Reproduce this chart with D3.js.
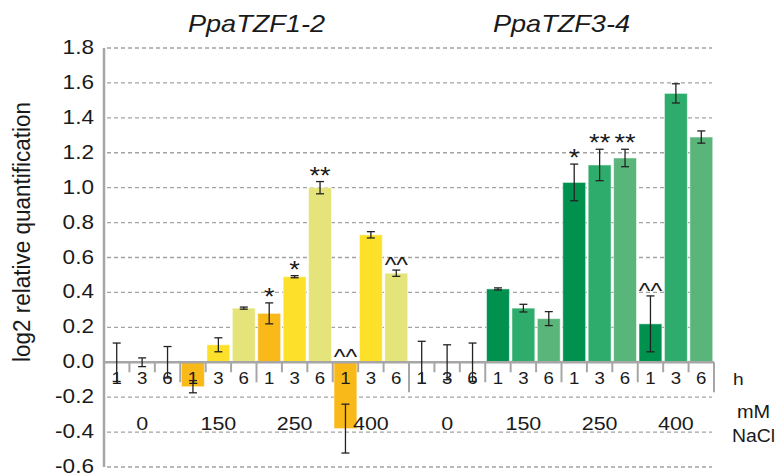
<!DOCTYPE html>
<html>
<head>
<meta charset="utf-8">
<script src="https://cdn.jsdelivr.net/npm/d3@7"></script>
<style>
  body { margin: 0; background: #fff; }
  text { font-family: "Liberation Sans", Arial, sans-serif; fill: #1a1a1a; }
</style>
</head>
<body>
<svg id="chart" width="779" height="475"></svg>
<script>
// values
const genes = ["PpaTZF1-2", "PpaTZF3-4"];
const concentrations = ["0", "150", "250", "400"];
const hours = ["1", "3", "6"];
const yTicks = [-0.6, -0.4, -0.2, 0.0, 0.2, 0.4, 0.6, 0.8, 1.0, 1.2, 1.4, 1.6, 1.8];

const tzf12Values = [0, 0, 0, -0.14, 0.10, 0.31, 0.28, 0.49, 1.00, -0.38, 0.73, 0.51];
const tzf12Errors = [0.11, 0.025, 0.09, 0.035, 0.04, 0.006, 0.06, 0.006, 0.035, 0.14, 0.018, 0.018];
const tzf12Marks = ["", "", "", "", "", "", "*", "*", "**", "^^", "", "^^"];

const tzf34Values = [0, 0, 0, 0.42, 0.31, 0.25, 1.03, 1.13, 1.17, 0.22, 1.54, 1.29];
const tzf34Errors = [0.12, 0.1, 0.11, 0.006, 0.022, 0.04, 0.105, 0.09, 0.05, 0.16, 0.055, 0.035];
const tzf34Marks = ["", "", "", "", "", "", "*", "**", "**", "^^", "", ""];

const colors12 = ["#F9B918", "#FDE02A", "#E4E47A"];
const colors34 = ["#00914F", "#2EAC6C", "#5AB57A"];

const plotLeft = 104, plotRight = 714, plotTop = 48, plotBottom = 467;
const sx = 1.13; // the figure's lettering is a bit wide

const rows = [];
[[tzf12Values, tzf12Errors, tzf12Marks, colors12], [tzf34Values, tzf34Errors, tzf34Marks, colors34]]
  .forEach(([vals, errs, marks, cols], g) => {
    vals.forEach((v, i) => {
      rows.push({
        key: g * 12 + i, gene: g,
        conc: concentrations[Math.floor(i / 3)], hour: hours[i % 3],
        value: v, err: errs[i], mark: marks[i],
        color: cols[i % 3], empty: Math.floor(i / 3) == 0
      });
    });
  });

const svg = d3.select("#chart");

const x = d3.scaleBand()
  .domain(rows.map(d => d.key))
  .range([plotLeft, plotRight])
  .paddingInner(0.1)
  .paddingOuter(0.05);

const y = d3.scaleLinear()
  .domain([-0.6, 1.8])
  .range([plotBottom, plotTop]);

const step = (plotRight - plotLeft) / rows.length;
const catX = i => plotLeft + i * step;

// dashed grid
svg.append("g").selectAll("line")
  .data(yTicks.filter(t => t != 0))
  .enter().append("line")
  .attr("x1", plotLeft + 3).attr("x2", plotRight - 2)
  .attr("y1", d => y(d)).attr("y2", d => y(d))
  .attr("stroke", "#a3a3a3")
  .attr("stroke-width", 1.3)
  .attr("stroke-dasharray", "4,3");

// y tick labels (plain hyphen like the figure)
svg.append("g").selectAll("text")
  .data(yTicks)
  .enter().append("text")
  .attr("transform", d => "translate(94," + y(d) + ") scale(" + sx + ",1)")
  .attr("dy", "0.3em")
  .attr("text-anchor", "end")
  .style("font-size", "20px")
  .text(d => d3.format(".1f")(d).replace("\u2212", "-"));

// bars
svg.append("g").selectAll("rect")
  .data(rows.filter(d => !d.empty))
  .enter().append("rect")
  .attr("x", d => x(d.key))
  .attr("width", x.bandwidth())
  .attr("y", d => y(Math.max(0, d.value)))
  .attr("height", d => Math.abs(y(d.value) - y(0)))
  .attr("fill", d => d.color)
  .attr("stroke", "#fff")
  .attr("stroke-opacity", 0.5)
  .attr("stroke-width", 1);

// axes
svg.append("line")
  .attr("x1", plotLeft).attr("x2", plotLeft)
  .attr("y1", plotTop).attr("y2", plotBottom)
  .attr("stroke", "#a6a6a6").attr("stroke-width", 2.5);

svg.append("line")
  .attr("x1", plotLeft).attr("x2", plotRight)
  .attr("y1", y(0)).attr("y2", y(0))
  .attr("stroke", "#a6a6a6").attr("stroke-width", 2.5);

const tickIdx = d3.range(1, rows.length + 1);
svg.append("g").selectAll("line")
  .data(tickIdx)
  .enter().append("line")
  .attr("x1", d => catX(d)).attr("x2", d => catX(d))
  .attr("y1", y(0))
  .attr("y2", d => y(0) + (d % 12 == 0 ? 30 : d % 3 == 0 ? 20 : 10))
  .attr("stroke", "#a6a6a6").attr("stroke-width", 2);

// hour labels
svg.append("g").selectAll("text")
  .data(rows)
  .enter().append("text")
  .attr("transform", d => "translate(" + (x(d.key) + x.bandwidth() / 2) + ",384) scale(" + sx + ",1)")
  .attr("text-anchor", "middle")
  .style("font-size", "16.5px")
  .text(d => d.hour);

// concentration labels
const groups = rows.filter(d => d.hour == "1");
svg.append("g").selectAll("text")
  .data(groups)
  .enter().append("text")
  .attr("transform", d => "translate(" + (catX(d.key) + step * 1.5) + ",430) scale(" + sx + ",1)")
  .attr("text-anchor", "middle")
  .style("font-size", "19px")
  .text(d => d.conc);

// error bars
const eb = svg.append("g").selectAll("g")
  .data(rows)
  .enter().append("g")
  .attr("stroke", "#222")
  .attr("stroke-width", 1.3);

const cx = d => x(d.key) + x.bandwidth() / 2;
eb.append("line")
  .attr("x1", cx).attr("x2", cx)
  .attr("y1", d => y(d.value + d.err)).attr("y2", d => y(d.value - d.err));
eb.append("line")
  .attr("x1", d => cx(d) - 4).attr("x2", d => cx(d) + 4)
  .attr("y1", d => y(d.value + d.err)).attr("y2", d => y(d.value + d.err));
eb.append("line")
  .attr("x1", d => cx(d) - 4).attr("x2", d => cx(d) + 4)
  .attr("y1", d => y(d.value - d.err)).attr("y2", d => y(d.value - d.err));

// significance marks
svg.append("g").selectAll("text")
  .data(rows.filter(d => d.mark))
  .enter().append("text")
  .attr("transform", d => {
    const t = Math.min(y(0), y(d.value + d.err));
    return "translate(" + cx(d) + "," + (t + 2) + ") scale(" + sx + ",1)";
  })
  .attr("text-anchor", "middle")
  .style("font-size", d => d.mark == "^^" ? "22px" : "24px")
  .text(d => d.mark);

// gene titles
svg.append("g").selectAll("text")
  .data(genes)
  .enter().append("text")
  .attr("transform", (d, g) => "translate(" + (catX(g * 12) + step * 6) + ",32) scale(" + sx + ",1)")
  .attr("text-anchor", "middle")
  .style("font-size", "24px")
  .style("font-style", "italic")
  .text(d => d);

// axis captions
svg.append("text")
  .attr("transform", "translate(30,232) scale(1.05,1) rotate(-90)")
  .attr("text-anchor", "middle")
  .style("font-size", "22.5px")
  .text("log2 relative quantification");

svg.append("text")
  .attr("transform", "translate(733,385) scale(" + sx + ",1)")
  .style("font-size", "17px")
  .text("h");
svg.append("text")
  .attr("transform", "translate(737,418) scale(1.05,1)")
  .style("font-size", "19px")
  .text("mM");
svg.append("text")
  .attr("transform", "translate(732,442) scale(1.05,1)")
  .style("font-size", "18.5px")
  .text("NaCl");
</script>
</body>
</html>
